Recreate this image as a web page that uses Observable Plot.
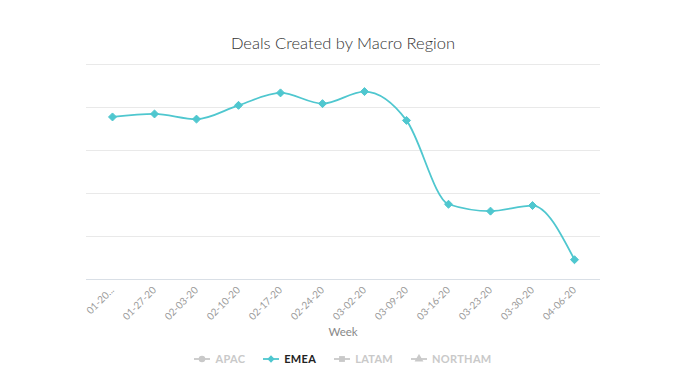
<!DOCTYPE html>
<html>
<head>
<meta charset="utf-8">
<script src="https://cdn.jsdelivr.net/npm/d3@7"></script>
<script src="https://cdn.jsdelivr.net/npm/@observablehq/plot@0.6"></script>
<style>
  html, body { margin: 0; padding: 0; background: #fff; }
  #wrap { position: relative; width: 700px; height: 388px; font-family: Lato, "Open Sans", sans-serif; overflow: hidden; }
  #title { position: absolute; top: 33px; left: 86px; width: 514px; text-align: center; font-size: 16.5px; font-weight: 300; color: #333; }
  #chart { position: absolute; top: 56px; left: 0; }
  #xlabel { position: absolute; top: 325px; left: 86px; width: 514px; text-align: center; font-size: 11.5px; color: #888; }
  #legend { position: absolute; top: 352px; left: 86px; width: 514px; display: flex; justify-content: center; gap: 18px; font-size: 11px; font-weight: 700; letter-spacing: 0.3px; }
  .item { display: flex; align-items: center; gap: 5px; color: #c9c9c9; }
  .item.on { color: #222; }
</style>
</head>
<body>
<div id="wrap">
  <div id="title">Deals Created by Macro Region</div>
  <div id="chart"></div>
  <div id="xlabel">Week</div>
  <div id="legend"></div>
</div>
<script>
const weeks = ["01-20...", "01-27-20", "02-03-20", "02-10-20", "02-17-20", "02-24-20", "03-02-20", "03-09-20", "03-16-20", "03-23-20", "03-30-20", "04-06-20"];
const emea = [37.8, 38.5, 37.3, 40.5, 43.4, 40.9, 43.7, 37.0, 17.5, 15.9, 17.2, 4.6];
const yTicks = [0, 10, 20, 30, 40, 50];
const legendNames = ["APAC", "EMEA", "LATAM", "NORTHAM"];
const legendSymbols = ["circle", "diamond", "square", "triangle"];
const activeSeries = "EMEA";

const data = weeks.map((w, i) => ({week: w, value: emea[i]}));
const teal = "#4fc7cf";

const chart = Plot.plot({
  width: 700,
  height: 290,
  marginTop: 8,
  marginBottom: 67,
  marginLeft: 86,
  marginRight: 100,
  style: {fontFamily: "Lato, 'Open Sans', sans-serif", background: "transparent"},
  x: {type: "point", domain: weeks, padding: 0.5},
  y: {domain: [0, 50], axis: null},
  marks: [
    Plot.ruleY(yTicks.filter(d => d > 0), {stroke: "#e9e9e9", strokeWidth: 1}),
    Plot.ruleY([0], {stroke: "#d9dfe6", strokeWidth: 1}),
    Plot.axisX({tickSize: 0, tickPadding: 9, tickRotate: -45, fontSize: 10, fill: "#9a9a9a", label: null}),
    Plot.line(data, {x: "week", y: "value", stroke: teal, strokeWidth: 1.8, curve: "monotone-x"}),
    Plot.dot(data, {x: "week", y: "value", symbol: "diamond2", r: 3.6, fill: teal, stroke: teal, strokeWidth: 1})
  ]
});
document.getElementById("chart").appendChild(chart);

// Legend
const leg = document.getElementById("legend");
legendNames.forEach((name, i) => {
  const on = name === activeSeries;
  const col = on ? teal : "#c9c9c9";
  const item = document.createElement("div");
  item.className = "item" + (on ? " on" : "");
  const sym = d3.symbol(legendSymbols[i] === "diamond" ? d3.symbolDiamond2 :
                       legendSymbols[i] === "circle" ? d3.symbolCircle :
                       legendSymbols[i] === "square" ? d3.symbolSquare : d3.symbolTriangle, 34)();
  item.innerHTML = `<svg width="16" height="10"><line x1="0" x2="16" y1="5" y2="5" stroke="${col}" stroke-width="1.8"/><path d="${sym}" transform="translate(8,5)" fill="${col}"/></svg><span>${name}</span>`;
  leg.appendChild(item);
});
</script>
</body>
</html>
